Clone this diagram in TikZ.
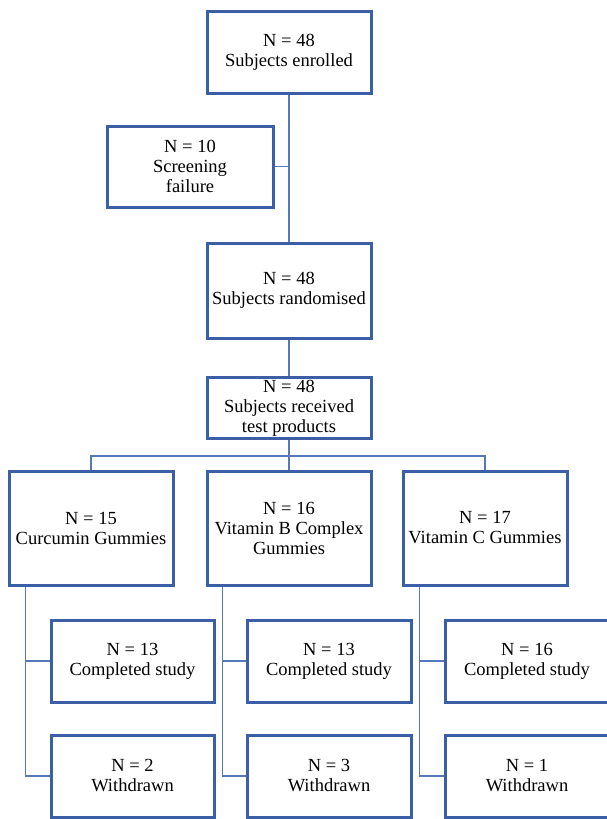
\documentclass[tikz,border=0pt]{standalone}
\usepackage{fontspec}
\setmainfont{Liberation Serif}
\usetikzlibrary{shadows}
\definecolor{boxblue}{HTML}{3A5FA6}
\definecolor{lineblue}{HTML}{5578BA}
\begin{document}
\begin{tikzpicture}[x=1pt,y=-1pt,
  fbox/.style={draw=boxblue, line width=3pt, fill=white, align=center,
    inner sep=2pt, font=\fontsize{18.5}{20}\selectfont,
    drop shadow={opacity=0.35, shadow xshift=2pt, shadow yshift=-2pt}},
  link/.style={draw=lineblue, line width=1.7pt}]
\useasboundingbox (0,0) rectangle (606,819);
% main column
\node[fbox, minimum width=164pt, minimum height=82pt] (enr) at (289,52) {N = 48\\Subjects enrolled};
\node[fbox, minimum width=166pt, minimum height=81pt] (scr) at (190,166.5) {N = 10\\Screening\\failure};
\node[fbox, minimum width=164pt, minimum height=95pt] (rand) at (289,290.5) {N = 48\\Subjects randomised};
\node[fbox, minimum width=164pt, minimum height=60pt] (recv) at (289,408) {N = 48\\Subjects received\\test products};
% groups
\node[fbox, minimum width=164pt, minimum height=114pt] (cur) at (91,528) {N = 15\\Curcumin Gummies};
\node[fbox, minimum width=164pt, minimum height=114pt] (vitb) at (289,528) {N = 16\\Vitamin B Complex\\Gummies};
\node[fbox, minimum width=164pt, minimum height=114pt] (vitc) at (485,528) {N = 17\\Vitamin C Gummies};
% outcomes
\node[fbox, minimum width=163pt, minimum height=82pt] (c1) at (132.5,661) {N = 13\\Completed study};
\node[fbox, minimum width=164pt, minimum height=82pt] (c2) at (329,661) {N = 13\\Completed study};
\node[fbox, minimum width=164pt, minimum height=82pt] (c3) at (527,661) {N = 16\\Completed study};
\node[fbox, minimum width=163pt, minimum height=82pt] (w1) at (132.5,776) {N = 2\\Withdrawn};
\node[fbox, minimum width=164pt, minimum height=82pt] (w2) at (329,776) {N = 3\\Withdrawn};
\node[fbox, minimum width=164pt, minimum height=82pt] (w3) at (527,776) {N = 1\\Withdrawn};
% connectors
\draw[link] (enr.south) -- (rand.north);
\draw[link] (scr.east) -- (scr.east -| enr.south);
\draw[link] (rand.south) -- (recv.north);
\coordinate (br) at (289,456);
\draw[link] (recv.south) -- (br);
\draw[link] (cur.north) -- (cur.north |- br) -- (vitc.north |- br) -- (vitc.north);
\draw[link] (br) -- (vitb.north);
\coordinate (d1) at ([xshift=18pt]cur.south west);
\coordinate (d2) at ([xshift=17pt]vitb.south west);
\coordinate (d3) at ([xshift=18pt]vitc.south west);
\draw[link] (d1) |- (w1.west);
\draw[link] (d1 |- c1.west) -- (c1.west);
\draw[link] (d2) |- (w2.west);
\draw[link] (d2 |- c2.west) -- (c2.west);
\draw[link] (d3) |- (w3.west);
\draw[link] (d3 |- c3.west) -- (c3.west);
\end{tikzpicture}
\end{document}
